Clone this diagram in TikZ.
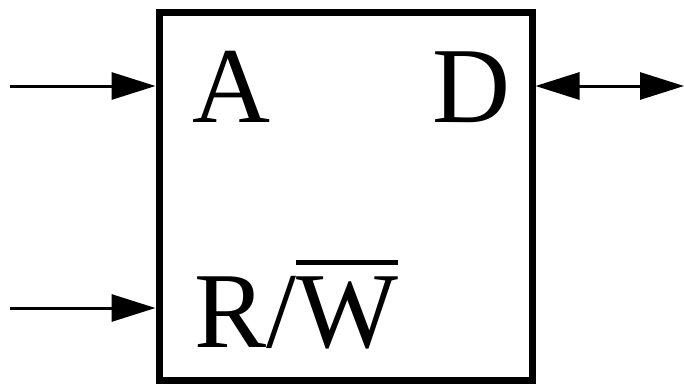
\documentclass[tikz,border=0pt]{standalone}
\usepackage{fontspec}
\setmainfont{Liberation Serif}
\usetikzlibrary{arrows.meta}
\newcommand\barover[1]{\leavevmode\vbox{\hrule height 5pt \kern 11pt \hbox{#1}}}
\tikzset{
  blk/.style={draw, line width=7pt, minimum width=373pt, minimum height=368pt, inner sep=0pt},
  lbl/.style={anchor=base west, inner sep=0pt, font=\fontsize{108}{108}\selectfont},
  sig/.style={line width=3pt, -{Triangle[length=44pt, width=27pt]}},
  bsig/.style={line width=3pt, {Triangle[length=44pt, width=27pt]}-{Triangle[length=44pt, width=27pt]}}
}
\begin{document}
\begin{tikzpicture}[x=1pt, y=-1pt]
\useasboundingbox (0,0) rectangle (684,383);
\node[blk] (box) at (345.5,196) {};
\node[lbl] (A) at (192,122) {A};
\node[lbl] (D) at (432,122) {D};
\node[lbl] (RW) at (194,347) {R/\barover{W}};
\coordinate (inA) at (10,86);
\coordinate (inR) at (10,308);
\coordinate (outD) at (684,86);
\draw[sig] (inA) -- (inA -| box.west);
\draw[sig] (inR) -- (inR -| box.west);
\draw[bsig] (outD -| box.east) -- (outD);
\end{tikzpicture}
\end{document}
